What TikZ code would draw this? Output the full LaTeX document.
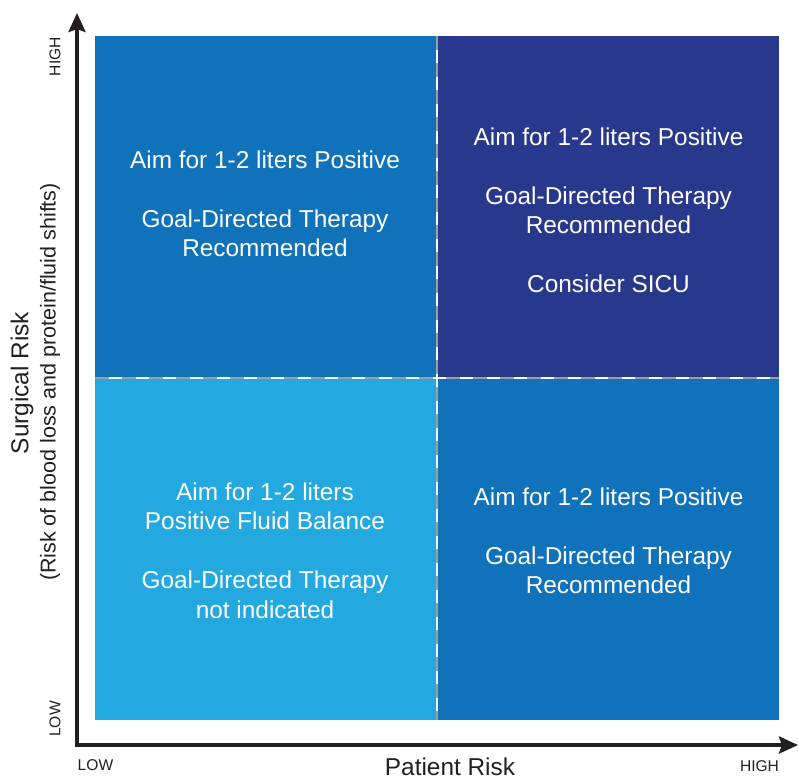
\documentclass[tikz,border=0pt]{standalone}
\usepackage{fontspec}
\setmainfont{Liberation Sans}
\usetikzlibrary{arrows.meta}
\definecolor{midblue}{RGB}{16,114,186}
\definecolor{darkblue}{RGB}{40,56,140}
\definecolor{lightblue}{RGB}{35,168,224}
\definecolor{axisink}{RGB}{35,31,32}

\begin{document}
\begin{tikzpicture}[x=1pt,y=-1pt,>={Stealth[length=19pt,width=17pt,inset=3pt]},
  quad/.style={minimum width=341pt,minimum height=341pt,inner sep=0pt,anchor=north west},
  advice/.style={text=white,align=center,font=\fontsize{24.4}{29.5}\selectfont},
  divider/.style={draw=black!38,line width=1.4pt,dash pattern=on 14pt off 13pt},
  tick/.style={text=axisink,font=\fontsize{15.6}{18}\selectfont},
  axisname/.style={text=axisink,font=\fontsize{24.4}{28}\selectfont}]
\useasboundingbox (0,0) rectangle (798,780);
% quadrants
\node[quad,fill=midblue] (tl) at (95,36) {};
\node[quad,fill=darkblue] (tr) at (438,36) {};
\node[quad,fill=lightblue] (bl) at (95,379) {};
\node[quad,fill=midblue] (br) at (438,379) {};
\draw[divider] (95,378) -- (779,378);
\draw[divider] (437,36) -- (437,720);
% advice texts
\node[advice] (tltext) at (265,204) {Aim for 1-2 liters Positive\\[29.5pt]Goal-Directed Therapy\\Recommended};
\node[advice] (trtext) at (608.5,210.5) {Aim for 1-2 liters Positive\\[29.5pt]Goal-Directed Therapy\\Recommended\\[29.5pt]Consider SICU};
\node[advice] (bltext) at (265,550.5) {Aim for 1-2 liters\\Positive Fluid Balance\\[29.5pt]Goal-Directed Therapy\\not indicated};
\node[advice] (brtext) at (608.5,541) {Aim for 1-2 liters Positive\\[29.5pt]Goal-Directed Therapy\\Recommended};
% axes
\draw[axisink,line width=3.8pt,<->] (77,13) -- (77,745) -- (798,745);
\node[tick,rotate=90] (yhigh) at (55,56.5) {HIGH};
\node[tick,rotate=90] (ylow) at (55,719) {LOW};
\node[tick] (xlow) at (95.5,765) {LOW};
\node[tick] (xhigh) at (759.5,766) {HIGH};
\node[axisname] (xname) at (450,766.5) {Patient Risk};
\node[axisname,rotate=90] (yname) at (22,383) {Surgical Risk};
\node[text=axisink,font=\fontsize{21.5}{24}\selectfont,rotate=90] (ynote) at (50,382) {(Risk of blood loss and protein/fluid shifts)};
\end{tikzpicture}
\end{document}
